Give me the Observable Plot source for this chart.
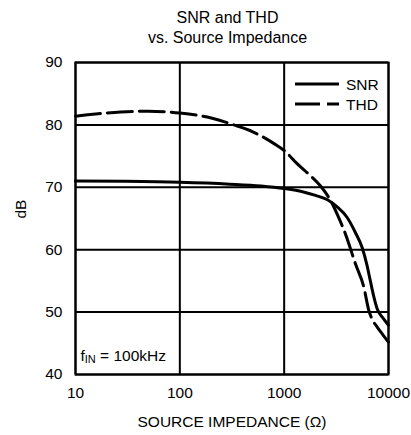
<!DOCTYPE html>
<html>
<head>
<meta charset="utf-8">
<script src="https://cdn.jsdelivr.net/npm/d3@7"></script>
<script src="https://cdn.jsdelivr.net/npm/@observablehq/plot@0.6"></script>
<style>
  html, body { margin: 0; padding: 0; background: #fff; }
  #chart { position: relative; width: 411px; height: 435px; font-family: "Liberation Sans", Arial, sans-serif; color: #000; }
  #title { box-sizing: border-box; height: 52px; padding-left: 44px; padding-top: 8px; text-align: center; font-size: 16px; line-height: 20px; }
  #chart svg { display: block; }
</style>
</head>
<body>
<div id="chart">
  <div id="title">SNR and THD<br>vs. Source Impedance</div>
</div>
<script>
// Source impedance (Ω) and measured levels (dB), fIN = 100kHz
const snrOhms = [10, 30, 100, 300, 600, 1000, 1500, 2000, 2600, 3200, 4000, 4800, 5600, 6200, 6700, 7200, 7800, 8800, 10000];
const snrDb   = [71.0, 70.95, 70.8, 70.5, 70.2, 69.8, 69.3, 68.7, 68.0, 66.9, 65.2, 62.8, 60.3, 57.6, 55.0, 52.6, 50.5, 49.1, 47.9];

const thdOhms = [10, 20, 50, 100, 200, 330, 500, 800, 1000, 1330, 1800, 2230, 2780, 3300, 3870, 4830, 5800, 6470, 7000, 7790, 8800, 10000];
const thdDb   = [81.4, 81.9, 82.2, 81.9, 81.1, 80.0, 78.9, 77.0, 75.9, 73.8, 71.8, 70.2, 67.9, 65.3, 62.5, 57.7, 54.0, 50.3, 48.8, 47.6, 46.4, 45.2];

const xTicks = [10, 100, 1000, 10000];
const yTicks = [40, 50, 60, 70, 80, 90];

const seriesNames = ["SNR", "THD"];
const xLabel = "SOURCE IMPEDANCE (Ω)";
const yLabel = "dB";

const snr = snrOhms.map((x, i) => ({x, y: snrDb[i]}));
const thd = thdOhms.map((x, i) => ({x, y: thdDb[i]}));

const dash = "25,7";
const lineW = 3;

const plot = Plot.plot({
  width: 411,
  height: 383,
  marginTop: 10,
  marginBottom: 61,
  marginLeft: 75,
  marginRight: 23,
  style: {fontFamily: '"Liberation Sans", Arial, sans-serif', fontSize: "15.5px", background: "#fff", color: "#000"},
  x: {type: "log", domain: [10, 10000], ticks: xTicks, tickFormat: d => String(d), tickSize: 0, tickPadding: 12, label: null},
  y: {domain: [40, 90], ticks: yTicks, tickSize: 0, tickPadding: 13, label: null},
  marks: [
    Plot.gridX(xTicks, {stroke: "#000", strokeOpacity: 1, strokeWidth: 2}),
    Plot.gridY(yTicks, {stroke: "#000", strokeOpacity: 1, strokeWidth: 2}),
    Plot.frame({stroke: "#000", strokeWidth: 2}),
    Plot.line(snr, {x: "x", y: "y", stroke: "#000", strokeWidth: lineW, curve: "monotone-x"}),
    Plot.line(thd, {x: "x", y: "y", stroke: "#000", strokeWidth: lineW, strokeDasharray: dash, curve: "monotone-x"}),
    Plot.text([xLabel], {text: d => d, frameAnchor: "bottom", dy: 48, lineAnchor: "middle", fontSize: 15.5}),
    Plot.text([yLabel], {text: d => d, frameAnchor: "left", dx: -54, rotate: -90, lineAnchor: "middle", fontSize: 15.5})
  ]
});

document.getElementById("chart").appendChild(plot);

// Legend (top right) and condition note (bottom left), inside the frame
const svg = d3.select(plot);
const fx0 = 75, fx1 = 411 - 23, fy0 = 10, fy1 = 383 - 61;

const legend = svg.append("g").attr("transform", `translate(${fx1 - 93},${fy0 + 22})`);
seriesNames.forEach((name, i) => {
  const row = legend.append("g").attr("transform", `translate(0,${i * 20})`);
  row.append("line").attr("x1", 0).attr("x2", 44).attr("y1", 0).attr("y2", 0)
    .attr("stroke", "#000").attr("stroke-width", lineW)
    .attr("stroke-dasharray", i === 1 ? dash : null);
  row.append("text").attr("x", 51).attr("y", 5.5).attr("text-anchor", "start")
    .attr("font-size", 15.5).attr("fill", "#000").text(name);
});

const note = svg.append("text").attr("x", fx0 + 5.5).attr("y", fy1 - 13).attr("text-anchor", "start")
  .attr("font-size", 15.5).attr("fill", "#000");
note.append("tspan").text("f");
note.append("tspan").attr("font-size", 11).attr("dy", 2).text("IN");
note.append("tspan").attr("dy", -2).text(" = 100kHz");
</script>
</body>
</html>
